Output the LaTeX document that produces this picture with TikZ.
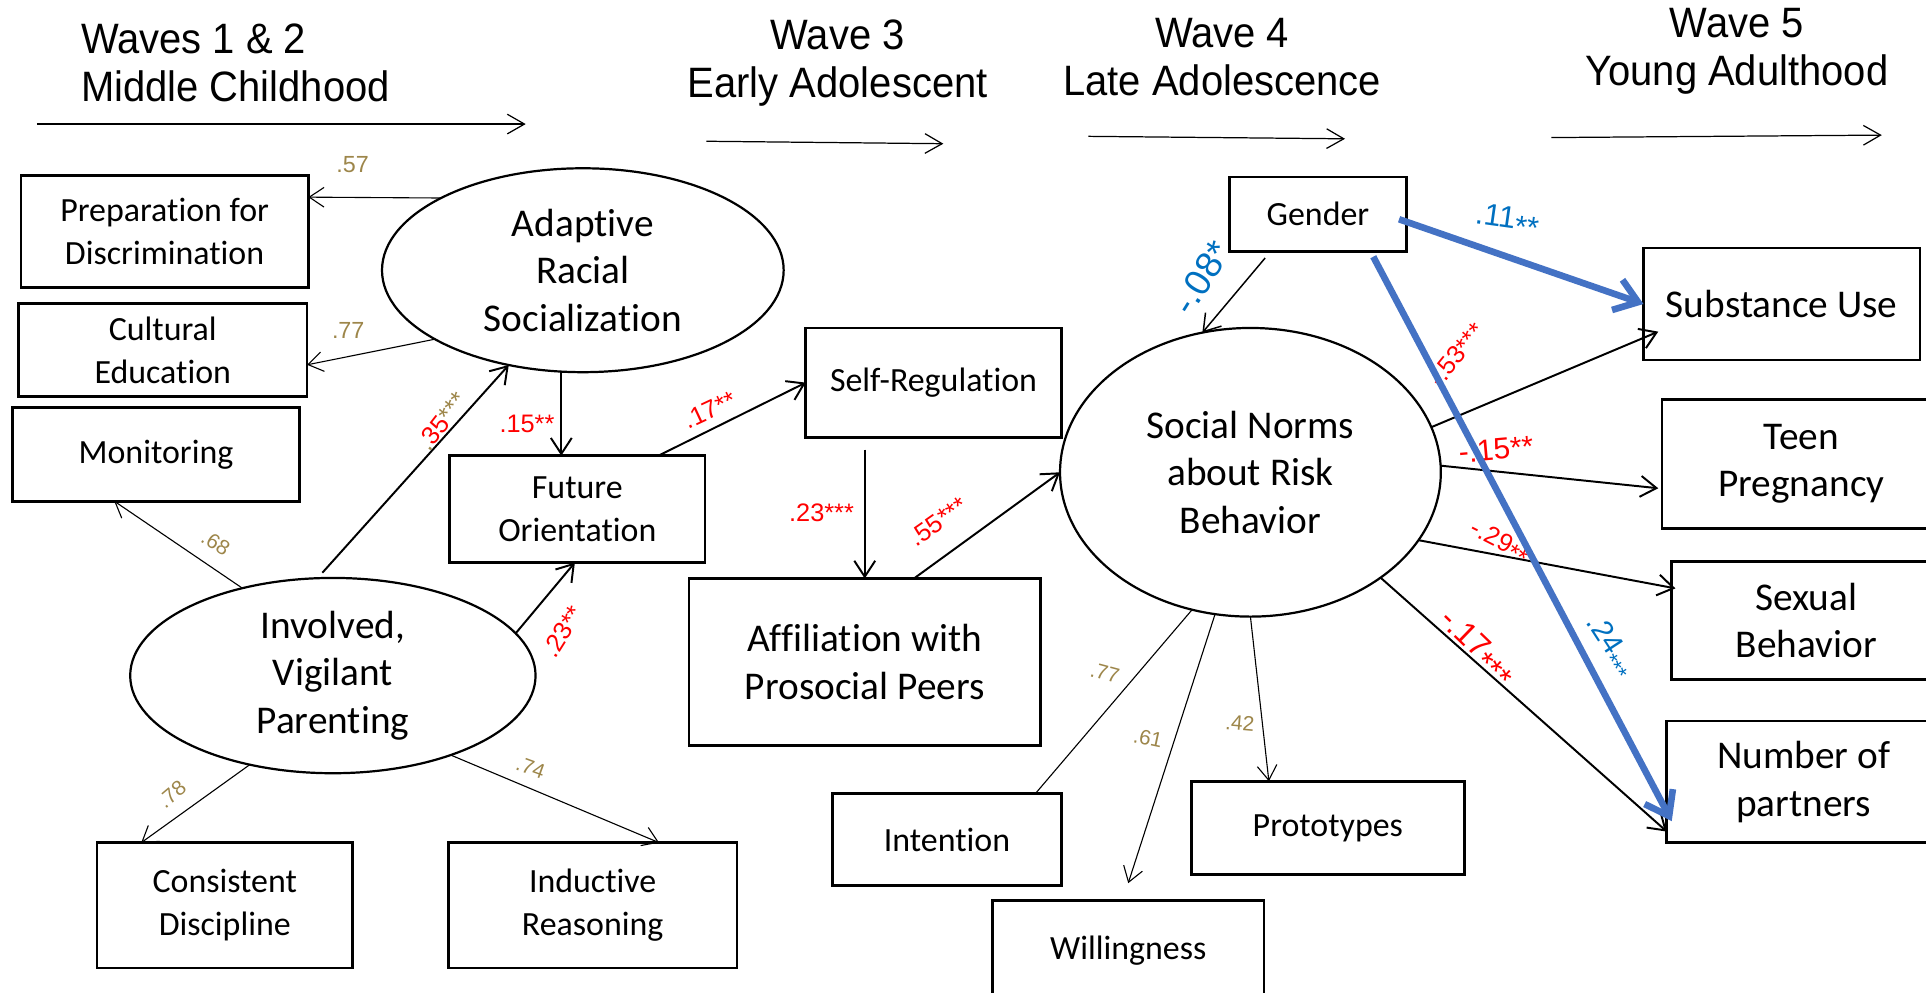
\documentclass[tikz,border=0pt]{standalone}
\usepackage{fontspec}
\setmainfont{Carlito}[Ligatures={NoCommon}]
\newfontfamily\labelfont{Liberation Sans}
\newfontfamily\headfont[FakeStretch=0.94]{Liberation Sans}
\usetikzlibrary{shapes.geometric,arrows.meta,calc}
\definecolor{loadcol}{RGB}{157,134,74}
\definecolor{pathred}{RGB}{255,0,0}
\definecolor{gendtext}{RGB}{0,112,192}
\definecolor{gendline}{RGB}{68,114,196}
\newcommand{\dropstars}[1]{\raisebox{-0.45ex}{#1}}

\begin{document}
\begin{tikzpicture}[x=0.5pt,y=-0.5pt,
  every node/.style={inner sep=0pt, outer sep=0pt},
  obsbox/.style 2 args={draw, line width=1.1pt, minimum width=#1*0.5pt, minimum height=#2*0.5pt, align=center, font=\fontsize{13.8}{17.5}\selectfont},
  bigbox/.style 2 args={obsbox={#1}{#2}, font=\fontsize{16}{19.3}\selectfont},
  latent/.style 2 args={draw, ellipse, line width=0.9pt, minimum width=#1*0.5pt, minimum height=#2*0.5pt, align=center, font=\fontsize{16}{19.3}\selectfont},
  loadarrow/.style={line width=0.45pt, -{Straight Barb[length=6pt,width=8pt]}},
  loadline/.style={line width=0.45pt},
  patharrow/.style={line width=0.8pt, -{Straight Barb[length=6.5pt,width=8.5pt]}},
  gendarrow/.style={draw=gendline, line width=2.7pt, -{Straight Barb[length=9pt,width=13pt]}},
  timearrow/.style={line width=0.5pt, -{Straight Barb[length=7pt,width=8pt]}},
  loadlab/.style={text=loadcol, font=\labelfont\fontsize{8.5}{8.5}\selectfont},
  redlab/.style={text=pathred, font=\labelfont\fontsize{10.3}{10.3}\selectfont},
  bluelab/.style={text=gendtext, font=\labelfont\fontsize{12.5}{12.5}\selectfont},
  wavehead/.style={font=\headfont\fontsize{17.3}{19.5}\selectfont, align=center},
]
\useasboundingbox (0,0) rectangle (1568,808);
\clip (0,0) rectangle (1568,808);

% ---- time line headings ----
\node[wavehead, align=left, anchor=west] (w12) at (66,51) {Waves 1 \& 2\\Middle Childhood};
\node[wavehead] (w3) at (682,51) {Wave 3\\Early Adolescent};
\node[wavehead] (w4) at (995,46.5) {Wave 4\\Late Adolescence};
\node[wavehead] (w5) at (1414,41.5) {Wave 5\\Young Adulthood};

\coordinate (t1a) at (30,101);   \coordinate (t1b) at (428,101);
\coordinate (t2a) at (575,115);  \coordinate (t2b) at (768,117);
\coordinate (t3a) at (886,111);  \coordinate (t3b) at (1095,113);
\coordinate (t4a) at (1263,112); \coordinate (t4b) at (1532,110);
\draw[timearrow] (t1a) -- (t1b);
\draw[timearrow] (t2a) -- (t2b);
\draw[timearrow] (t3a) -- (t3b);
\draw[timearrow] (t4a) -- (t4b);

% ---- middle childhood ----
\node[obsbox={234}{91}] (prep) at (134,188.5) {Preparation for\\Discrimination};
\node[obsbox={235}{76}] (cult) at (132.5,285) {Cultural\\Education};
\node[obsbox={234}{76}] (monit) at (127,370) {Monitoring};
\node[latent={327}{166}] (adapt) at (474.5,220) {Adaptive\\Racial\\Socialization};
\node[latent={330}{159}] (involv) at (271,550) {Involved,\\Vigilant\\Parenting};
\node[obsbox={208}{102}] (consist) at (183,737) {Consistent\\Discipline};
\node[obsbox={235}{102}] (induct) at (482.5,737) {Inductive\\Reasoning};

% ---- early adolescence ----
\node[obsbox={208}{87}] (future) at (470,414.5) {Future\\Orientation};
\node[obsbox={208}{89}] (selfreg) at (760,311.5) {Self-Regulation};
\node[bigbox={286}{136}] (affil) at (704,539) {Affiliation with\\Prosocial Peers};

% ---- late adolescence ----
\node[obsbox={144}{61}] (gender) at (1073,174.5) {Gender};
\node[latent={310}{235}] (social) at (1018,384.5) {Social Norms\\about Risk\\Behavior};
\node[obsbox={186}{75}] (intent) at (771,683.5) {Intention};
\node[obsbox={221}{82}] (willing) at (918.5,774) {Willingness};
\node[obsbox={222}{76}] (proto) at (1081,674) {Prototypes};

% ---- young adulthood ----
\node[bigbox={225}{91}] (subst) at (1450.5,247.5) {Substance Use};
\node[bigbox={227}{105}] (teen) at (1466.5,377.5) {Teen\\Pregnancy};
\node[bigbox={219}{96}] (sexual) at (1470.5,505) {Sexual\\Behavior};
\node[bigbox={223}{99}] (number) at (1468.5,636.5) {Number of\\partners};

% ---- measurement paths ----
\draw[loadarrow] (adapt.153.5) -- ($(prep.east)+(0,-28)$);
\draw[loadarrow] (adapt.205.7) -- ($(cult.east)+(0,12)$);
\draw[loadarrow] (involv.136.6) -- ($(monit.south)+(-34,0)$);
\draw[loadarrow] (involv.227.9) -- ($(consist.north)+(-68,0)$);
\draw[loadarrow] (involv.326.6) -- ($(induct.north)+(54,0)$);
\draw[loadline] (social.247) -- ($(intent.north east)+(-21,0)$);
\draw[loadarrow] (social.256.2) -- ($(willing.north)+(0,-14)$);
\draw[loadarrow] (social.south) -- ($(proto.north)+(-48,0)$);

% ---- structural paths ----
\draw[patharrow, shorten <=3pt] (involv.99.6) -- (adapt.232);
\draw[patharrow] (adapt.258) -- (adapt.258 |- future.north);
\draw[patharrow] (involv.13.7) -- ($(future.south)+(-2,0)$);
\draw[patharrow] ($(future.north)+(66,0)$) -- (selfreg.west);
\coordinate (srbase) at (selfreg.south -| affil.north);
\draw[patharrow] ($(srbase)+(0,10)$) -- (affil.north);
\draw[patharrow] ($(affil.north)+(40,0)$) -- (social.west);
\draw[patharrow, line width=0.6pt] ($(gender.south)+(-43,5)$) -- (social.109.5);
\draw[patharrow] (social.14.5) -- ($(subst.south west)+(12,-23)$);
\draw[patharrow] (social.2.7) -- ($(teen.west)+(-3,20)$);
\draw[patharrow] (social.338.1) -- ($(sexual.west)+(3,-26)$);
\draw[patharrow] (social.321.5) -- ($(number.south west)+(0,-9)$);

% ---- loadings ----
\node[loadlab, font=\labelfont\fontsize{9.5}{9.5}\selectfont] (c57) at (287,134) {.57};
\node[loadlab, font=\labelfont\fontsize{9.5}{9.5}\selectfont] (c77a) at (283.5,268.7) {.77};
\node[loadlab, rotate=-32] (c68) at (175.6,441.8) {.68};
\node[loadlab, rotate=40] (c78) at (140,646.6) {.78};
\node[loadlab, rotate=-20] (c74) at (432,625.2) {.74};
\node[loadlab, rotate=-15] (c77b) at (899.5,548) {.77};
\node[loadlab, rotate=-12] (c61) at (934.7,601) {.61};
\node[loadlab, rotate=-5] (c42) at (1009.4,588.8) {.42};

% ---- path coefficients ----
\node[redlab, rotate=52] (c35) at (360,343) {{\color{loadcol}.}35{\color{loadcol}***}};
\node[redlab] (c15) at (429,345) {.15**};
\node[redlab, rotate=58] (c23a) at (458,514) {.23**};
\node[redlab, rotate=25] (c17a) at (578,334) {.17**};
\node[redlab] (c23b) at (668.8,417.8) {.23***};
\node[redlab, rotate=35] (c55) at (763.8,424.6) {.55***};
\node[redlab, rotate=51] (c53) at (1185.7,289) {-.53***};
\node[redlab, font=\labelfont\fontsize{12.2}{12.2}\selectfont, rotate=5] (c15b) at (1218,366) {-.15**};
\node[redlab, rotate=-27] (c29) at (1221,442) {-.29\dropstars{**}};
\node[redlab, font=\labelfont\fontsize{13}{13}\selectfont, rotate=-44] (c17b) at (1202,528) {-.17\dropstars{***}};
\node[bluelab, font=\labelfont\fontsize{15}{15}\selectfont, rotate=58] (c08) at (978,226) {-.08*};
\node[bluelab, rotate=-8] (c11) at (1227,180) {.11\dropstars{**}};
\node[bluelab, font=\labelfont\fontsize{12}{12}\selectfont, rotate=-57] (c24) at (1310.5,526.4) {.24\dropstars{\small ***}};

% ---- gender effects on outcomes ----
\draw[gendarrow] ($(gender.east)+(-6,4)$) -- (subst.west);
\draw[gendarrow] ($(gender.south)+(45,4)$) -- ($(number.west)+(4,32)$);
\end{tikzpicture}
\end{document}
